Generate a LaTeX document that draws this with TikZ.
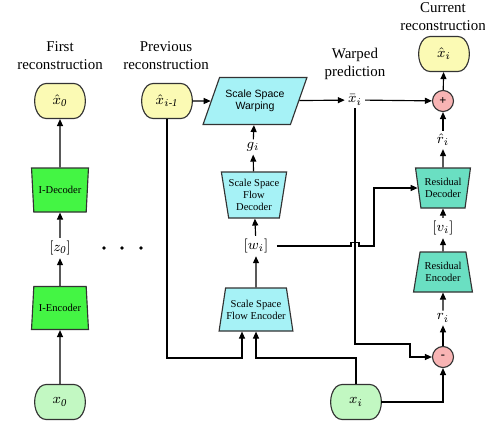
\documentclass[tikz,border=0pt]{standalone}
\usepackage{amsmath,amssymb}
\usepackage{fontspec}
\setmainfont{Liberation Serif}
\setsansfont{Liberation Sans}
\usetikzlibrary{calc, positioning, arrows.meta, shapes.geometric, shapes.misc}

\definecolor{reconyellow}{HTML}{FBFAB4}
\definecolor{inputgreen}{HTML}{C2F8C2}
\definecolor{igreen}{HTML}{44F544}
\definecolor{flowcyan}{HTML}{A6F2F6}
\definecolor{resteal}{HTML}{6ADFC2}
\definecolor{oppink}{HTML}{F8B4B4}

\begin{document}
\begin{tikzpicture}[
  x=0.02cm, y=-0.02cm,
  font=\fontsize{8.5}{10.2}\selectfont,
  line width=0.65pt,
  arrow/.style={-{Stealth[length=1.4mm, width=1.2mm, inset=0pt]}},
  frame/.style={draw=black!80, rounded rectangle, rounded rectangle arc length=90,
                rounded corners=2pt, minimum width=0.88cm, minimum height=0.7cm, inner sep=0pt},
  recon/.style={frame, fill=reconyellow},
  input/.style={frame, fill=inputgreen},
  coder/.style={trapezium, trapezium stretches=true, draw=black!80, align=center,
                inner sep=0pt, font=\fontsize{6}{6.9}\selectfont},
  decoder/.style={coder, shape border rotate=180},
  op/.style={circle, draw=black!80, fill=oppink, minimum size=0.42cm, inner sep=0pt,
             font=\bfseries\fontsize{7}{7}\selectfont},
  var/.style={inner sep=1.5pt},
  title/.style={align=center}
]
\useasboundingbox (0,0) rectangle (485,424);

% --- Titles ---
\node[title] (tfirst) at (60,56) {First\\reconstruction};
\node[title] (tprev) at (166,56) {Previous\\reconstruction};
\node[title] (twarp) at (355,64) {Warped\\prediction};
\node[title] (tcur) at (443,17) {Current\\reconstruction};

% --- I-frame branch ---
\node[recon] (xh0) at (60,101) {$\hat{x}_{\mathit{0}}$};
\node[decoder, fill=igreen, minimum width=1.14cm, minimum height=0.88cm,
      trapezium left angle=76, trapezium right angle=76] (idec) at (60,190) {I-Decoder};
\node[var] (z0) at (60,248) {$[z_{\mathit{0}}]$};
\node[coder, fill=igreen, minimum width=1.14cm, minimum height=0.86cm,
      trapezium left angle=76, trapezium right angle=76] (ienc) at (60,308) {I-Encoder};
\node[input] (x0) at (60,402) {$x_{\mathit{0}}$};

\draw[arrow] (x0) -- (ienc);
\draw[arrow] (ienc) -- (z0);
\draw[arrow] (z0) -- (idec);
\draw[arrow] (idec) -- (xh0);

% --- dots ---
\foreach \dx in {104,122,141}
  \fill (\dx,248) circle (1.1pt);

% --- Flow branch ---
\node[recon] (xhprev) at (167,101) {$\hat{x}_{i\textit{-1}}$};
\node[trapezium, trapezium stretches=true, trapezium left angle=64, trapezium right angle=116,
      draw=black!80, fill=flowcyan, minimum width=2.08cm, minimum height=0.94cm,
      align=center, font=\sffamily\fontsize{6}{7}\selectfont] (warp) at (255,101)
      {Scale Space\\Warping};
\node[var] (gi) at (253,147) {$g_i$};
\node[decoder, fill=flowcyan, minimum width=1.14cm, minimum height=0.92cm,
      trapezium left angle=77, trapezium right angle=77] (flowdec) at (254,195)
      {Scale Space\\Flow\\Decoder};
\node[var] (wi) at (256,246) {$[w_i]$};
\node[coder, fill=flowcyan, minimum width=1.48cm, minimum height=0.86cm,
      trapezium left angle=72, trapezium right angle=72] (flowenc) at (256,309.5)
      {Scale Space\\Flow Encoder};

\draw[arrow] (xhprev) -- (warp);
\draw[arrow] (flowenc) -- (wi);
\draw[arrow] (wi) -- (flowdec);
\draw[arrow] (flowdec) -- (gi);
\draw[arrow] (gi) -- (warp);

% --- Residual branch ---
\node[var] (xbar) at (355,100) {$\bar{x}_i$};
\node[op] (plus) at (443,101) {+};
\node[recon] (xhi) at (444,54) {$\hat{x}_i$};
\node[var] (rhat) at (443,140) {$\hat{r}_i$};
\node[decoder, fill=resteal, minimum width=1.1cm, minimum height=0.8cm,
      trapezium left angle=77, trapezium right angle=77] (resdec) at (443,188)
      {Residual\\Decoder};
\node[var] (vi) at (443,228) {$[v_i]$};
\node[coder, fill=resteal, minimum width=1.18cm, minimum height=0.8cm,
      trapezium left angle=75, trapezium right angle=75] (resenc) at (443,272)
      {Residual\\Encoder};
\node[var] (ri) at (443,318) {$r_i$};
\node[op] (minus) at (443,357) {-};
\node[input] (xi) at (356,402) {$x_i$};

\draw[arrow] (warp) -- (xbar);
\draw[arrow] (xbar) -- (plus);
\draw[arrow] (plus) -- (xhi);
\draw[arrow] (rhat) -- (plus);
\draw[arrow] (resdec) -- (rhat);
\draw[arrow] (vi) -- (resdec);
\draw[arrow] (resenc) -- (vi);
\draw[arrow] (ri) -- (resenc);
\draw[arrow] (minus) -- (ri);

% --- Long connectors ---
\coordinate (inrow) at (242,358);
\coordinate (wbend) at (374,246);
\coordinate (dbend) at (410,344);

\draw[arrow] (xhprev.south) |- (inrow) -- (inrow |- flowenc.south);
\draw[arrow] (xi.north) |- (flowenc.south |- inrow) -- (flowenc.south);
\draw[arrow] (xi.east) -| (minus.south);
\draw[arrow] (xbar.south) -- (xbar |- dbend) -- (dbend) |- (minus.west);
\draw[arrow, shorten <=3pt] (wi.east) -- ($(xbar |- wi)+(-4,0)$) -- ++(0,-3.5) -- ++(8,0)
  -- ++(0,3.5) -- (wbend) |- (resdec.west);

\end{tikzpicture}
\end{document}
